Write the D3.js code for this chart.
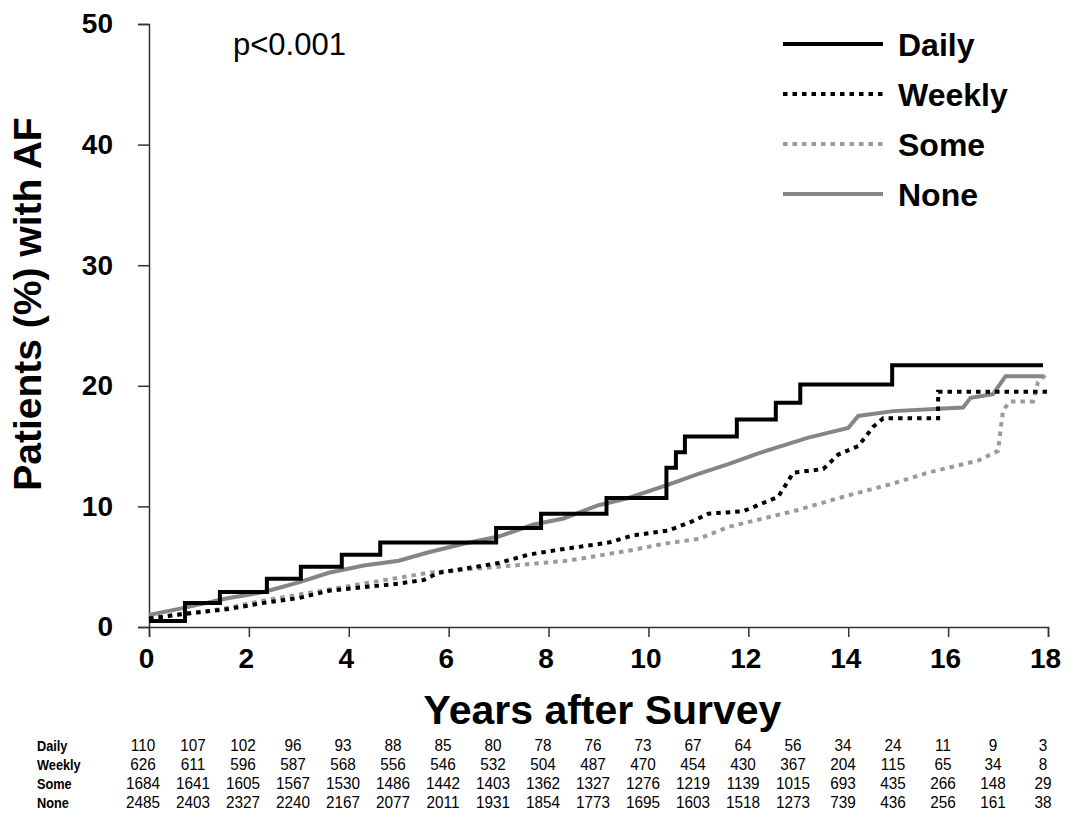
<!DOCTYPE html>
<meta charset="utf-8">
<style>
  body { margin: 0; background: #fff; }
  text { font-family: Arial, "Liberation Sans", sans-serif; }
</style>

<!-- Load d3.js -->
<script src="https://d3js.org/d3.v7.min.js"></script>

<!-- Create a div where the graph will take place -->
<div id="my_dataviz"></div>

<script>

// Kaplan-Meier style curves, [years, % with AF]
var daily = [[0,0.5],[0.72,2.0],[1.42,2.9],[2.36,4.0],[3.04,5.0],[3.86,6.0],[4.63,7.0],[6.95,8.2],
  [7.85,9.4],[9.16,10.7],[10.36,13.2],[10.55,14.5],[10.73,15.8],[11.77,17.2],[12.55,18.6],
  [13.04,20.1],[14.88,21.7],[17.9,21.7]]

var weekly = [[0,0.7],[0.7,1.1],[1.6,1.5],[2.3,2.0],[3.0,2.4],[3.6,3.0],[4.3,3.3],[5.0,3.6],[5.5,3.9],
  [5.8,4.5],[7.0,5.3],[7.6,6.0],[8.2,6.4],[9.2,7.0],[9.7,7.6],[10.4,8.0],[10.9,8.8],[11.2,9.4],
  [11.9,9.6],[12.6,10.8],[12.9,12.8],[13.5,13.1],[13.8,14.3],[14.2,15.0],[14.5,16.6],[14.7,17.3],
  [15.8,17.3],[15.8,19.5],[18.0,19.5]]

var some = [[0,0.7],[1.0,1.2],[1.6,1.6],[2.3,2.2],[3.3,2.9],[4.3,3.6],[5.6,4.5],[7.0,5.0],[8.4,5.5],
  [9.7,6.4],[10.3,6.9],[11.0,7.3],[11.6,8.3],[12.9,9.6],[13.9,10.8],[14.9,11.9],[15.6,12.8],
  [16.2,13.4],[16.6,13.8],[17.0,14.6],[17.1,18.0],[17.25,18.7],[17.7,18.7],[17.8,20.3],[17.95,20.9]]

var none = [[0,1.0],[0.6,1.5],[1.6,2.4],[2.3,2.9],[3.0,3.7],[3.6,4.5],[4.3,5.1],[5.0,5.5],[5.6,6.2],
  [6.3,6.9],[7.0,7.5],[7.7,8.5],[8.3,9.0],[9.0,10.1],[9.6,10.7],[10.4,11.8],[11.0,12.7],[11.6,13.5],
  [12.2,14.4],[13.2,15.7],[14.0,16.5],[14.2,17.5],[14.9,17.9],[16.3,18.2],[16.45,19.0],[16.9,19.3],
  [17.15,20.8],[17.9,20.8]]

// numbers at risk, one per year 0..18
var groups = ["Daily", "Weekly", "Some", "None"]
var riskDaily  = [110,107,102,96,93,88,85,80,78,76,73,67,64,56,34,24,11,9,3]
var riskWeekly = [626,611,596,587,568,556,546,532,504,487,470,454,430,367,204,115,65,34,8]
var riskSome   = [1684,1641,1605,1567,1530,1486,1442,1403,1362,1327,1276,1219,1139,1015,693,435,266,148,29]
var riskNone   = [2485,2403,2327,2240,2167,2077,2011,1931,1854,1773,1695,1603,1518,1273,739,436,256,161,38]

var xTicks = [0,2,4,6,8,10,12,14,16,18]
var yTicks = [0,10,20,30,40,50]

// set the dimensions and margins of the graph
var margin = {top: 24, right: 34, bottom: 197, left: 149},
    width = 1082 - margin.left - margin.right,
    height = 824 - margin.top - margin.bottom;

var svgRoot = d3.select("#my_dataviz")
  .append("svg")
    .attr("width", 1082)
    .attr("height", 824)

var svg = svgRoot.append("g")
    .attr("transform", "translate(" + margin.left + "," + margin.top + ")");

var x = d3.scaleLinear().domain([0, 18]).range([0, width]);
var y = d3.scaleLinear().domain([0, 50]).range([height, 0]);

// X axis
var xAxis = svg.append("g")
  .attr("transform", "translate(0," + height + ")")
  .call(d3.axisBottom(x).tickValues(xTicks).tickSize(10).tickPadding(11).tickFormat(d3.format("d")))
xAxis.select(".domain").attr("stroke", "#333").attr("stroke-width", 1.5)
xAxis.selectAll(".tick line").attr("stroke", "#333").attr("stroke-width", 1.5)
xAxis.selectAll(".tick text")
  .attr("dx", -3)
  .style("font-size", "28px").style("font-weight", "bold").attr("fill", "#000")

// Y axis
var yAxis = svg.append("g")
  .call(d3.axisLeft(y).tickValues(yTicks).tickSize(11).tickPadding(25))
yAxis.select(".domain").attr("stroke", "#333").attr("stroke-width", 1.5)
yAxis.selectAll(".tick line").attr("stroke", "#333").attr("stroke-width", 1.5)
yAxis.selectAll(".tick text")
  .style("font-size", "28px").style("font-weight", "bold").attr("fill", "#000")

// axis titles
svg.append("text")
  .attr("x", width / 2 + 4)
  .attr("y", height + 97)
  .style("text-anchor", "middle")
  .style("font-size", "41px").style("font-weight", "bold")
  .text("Years after Survey")

svgRoot.append("text")
  .attr("transform", "translate(41,304) rotate(-90)")
  .style("text-anchor", "middle")
  .style("font-size", "39px").style("font-weight", "bold")
  .text("Patients (%) with AF")

svgRoot.append("text")
  .attr("x", 233)
  .attr("y", 55)
  .style("font-size", "31px")
  .text("p<0.001")

// line styles per group
var styles = {
  Daily:  {data: daily,  color: "#000",    dash: null,      curve: d3.curveStepAfter},
  Weekly: {data: weekly, color: "#000",    dash: "4.5,5",   curve: d3.curveLinear},
  Some:   {data: some,   color: "#9a9a9a", dash: "4.5,5",   curve: d3.curveLinear},
  None:   {data: none,   color: "#858585", dash: null,      curve: d3.curveLinear}
}

// draw curves (grey ones first so black sits on top)
;["Some", "None", "Weekly", "Daily"].forEach(function(g) {
  var s = styles[g]
  svg.append("path")
    .datum(s.data)
    .attr("d", d3.line()
      .x(function(d) { return x(d[0]) })
      .y(function(d) { return y(d[1]) })
      .curve(s.curve)
    )
    .attr("stroke", s.color)
    .attr("stroke-dasharray", s.dash)
    .style("stroke-width", 4)
    .style("fill", "none")
})

// legend
var legendY = d3.scalePoint().domain(groups).range([44, 194])
var legend = svgRoot.selectAll("legendItems")
  .data(groups)
  .enter()
  .append("g")
    .attr("transform", function(d) { return "translate(783," + legendY(d) + ")" })
legend.append("line")
  .attr("x1", 0).attr("x2", 100)
  .attr("stroke", function(d) { return styles[d].color })
  .attr("stroke-dasharray", function(d) { return styles[d].dash })
  .style("stroke-width", 4)
legend.append("text")
  .attr("x", 115)
  .attr("y", 12)
  .style("font-size", "32px").style("font-weight", "bold")
  .text(function(d) { return d })

// numbers at risk table
var risk = {Daily: riskDaily, Weekly: riskWeekly, Some: riskSome, None: riskNone}
var colX = d3.scaleLinear().domain([0, 18]).range([143, 1043])
var rowY = d3.scalePoint().domain(groups).range([751, 808])

groups.forEach(function(g) {
  svgRoot.append("text")
    .attr("transform", "translate(37," + rowY(g) + ") scale(0.85,1)")
    .style("font-size", "15px").style("font-weight", "bold")
    .text(g)

  svgRoot.selectAll("riskCells")
    .data(risk[g])
    .enter()
    .append("text")
      .attr("transform", function(d, i) { return "translate(" + colX(i) + "," + rowY(g) + ") scale(0.9,1)" })
      .style("text-anchor", "middle")
      .style("font-size", "17px")
      .text(function(d) { return d })
})

</script>
